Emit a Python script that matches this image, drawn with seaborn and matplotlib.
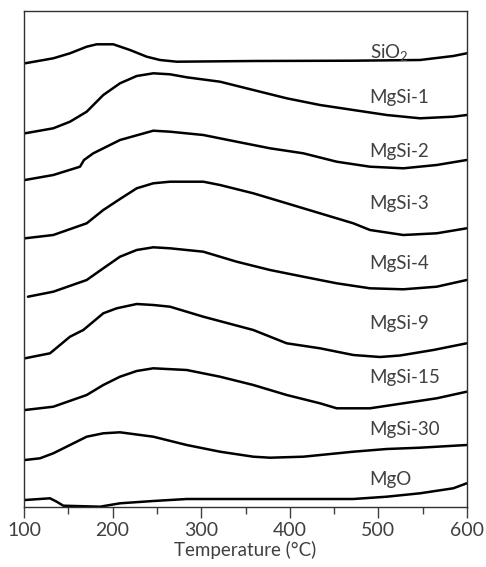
import numpy as np
import pandas as pd
import matplotlib
matplotlib.use("Agg")
import matplotlib.pyplot as plt
import seaborn as sns

# ---- data (pixel columns/rows converted to T and offset signal) ----
AX_TOP = 507.0  # signal = AX_TOP - pixel row

def px_to_T(px):
    return [100 + (p - 24) * 500.0 / 443.0 for p in px]

sio2_px = [25, 53.3, 70, 86.7, 96.7, 113.3, 130, 146.7, 160, 176.7, 253.3, 353.3, 420, 453.3, 466.7]
sio2_py = [63.3, 58.3, 53.3, 46.7, 44.3, 44.3, 50, 56.7, 60, 61.7, 61, 60.7, 60, 56, 53.3]

mgsi1_px = [25, 53.3, 70, 86.7, 103.3, 120, 136.7, 153.3, 170, 186.7, 220, 253.3, 286.7, 320, 353.3, 386.7, 420, 453.3, 466.7]
mgsi1_py = [133.3, 128.3, 121.7, 111.7, 95, 83.3, 76, 73.3, 74.3, 77.3, 81.7, 90, 98.3, 105, 110, 115, 118.3, 116.7, 115]

mgsi2_px = [25, 53.3, 80, 84, 93.3, 120, 153.3, 170, 203.3, 236.7, 270, 303.3, 336.7, 370, 403.3, 436.7, 466.7]
mgsi2_py = [180, 175, 166.7, 160, 153.3, 140, 130.7, 131.7, 135, 141.7, 148.3, 153.3, 161.7, 166.7, 168.3, 165, 160]

mgsi3_px = [25, 53.3, 86.7, 103.3, 120, 136.7, 153.3, 170, 203.3, 220, 253.3, 286.7, 320, 353.3, 370, 403.3, 436.7, 466.7]
mgsi3_py = [238.3, 235, 223.3, 210, 199, 188.3, 183.3, 181.7, 181.7, 185, 193.3, 203.3, 213.3, 223.3, 230, 235, 233.3, 228.3]

mgsi4_px = [28, 53.3, 86.7, 103.3, 120, 136.7, 153.3, 170, 203.3, 236.7, 270, 303.3, 336.7, 370, 403.3, 436.7, 466.7]
mgsi4_py = [296.7, 291.7, 280, 268.3, 256.7, 250, 247.3, 248.3, 251.7, 261.7, 270, 276.7, 283.3, 288.3, 289.3, 286.7, 280]

mgsi9_px = [25, 50, 70, 83.3, 103.3, 116.7, 136.7, 153.3, 170, 203.3, 253.3, 286.7, 320, 353.3, 380, 400, 433.3, 466.7]
mgsi9_py = [358.3, 353.3, 336.7, 330, 313.3, 308.3, 304, 305, 306.7, 316.7, 330, 343.3, 348.3, 355, 357, 355.5, 350, 343.3]

mgsi15_px = [25, 53.3, 86.7, 103.3, 120, 136.7, 153.3, 186.7, 220, 253.3, 286.7, 320, 336.7, 370, 403.3, 436.7, 466.7]
mgsi15_py = [410, 406.7, 395, 385, 376.7, 371, 368.3, 370, 376.7, 385, 395, 403.3, 408.3, 408.3, 403.3, 398.3, 391.7]

mgsi30_px = [25, 40, 53.3, 70, 86.7, 103.3, 120, 153.3, 186.7, 220, 253.3, 270, 303.3, 353.3, 386.7, 420, 466.7]
mgsi30_py = [460, 458.3, 453.3, 445, 436.7, 433.3, 432.3, 436.7, 445, 451.7, 456.7, 457.7, 456.7, 451.7, 449, 447.7, 445]

mgo_px = [25, 50, 56.7, 63.3, 100, 120, 153.3, 186.7, 253.3, 320, 353.3, 386.7, 420, 453.3, 466.7]
mgo_py = [500, 498.3, 501.7, 505.7, 506.7, 503.3, 501, 499, 499, 499, 499, 496.7, 493.3, 488.3, 483.3]

samples = ["SiO2", "MgSi-1", "MgSi-2", "MgSi-3", "MgSi-4", "MgSi-9", "MgSi-15", "MgSi-30", "MgO"]
labels = [r"SiO$_\mathregular{2}$", "MgSi-1", "MgSi-2", "MgSi-3", "MgSi-4", "MgSi-9", "MgSi-15", "MgSi-30", "MgO"]
label_row = [53, 97, 152, 203, 263, 323, 377, 430, 480]
xticks = [100, 200, 300, 400, 500, 600]

series_px = [sio2_px, mgsi1_px, mgsi2_px, mgsi3_px, mgsi4_px, mgsi9_px, mgsi15_px, mgsi30_px, mgo_px]
series_py = [sio2_py, mgsi1_py, mgsi2_py, mgsi3_py, mgsi4_py, mgsi9_py, mgsi15_py, mgsi30_py, mgo_py]

frames = []
for name, pxs, pys in zip(samples, series_px, series_py):
    frames.append(pd.DataFrame({
        "sample": name,
        "T": px_to_T(pxs),
        "signal": [AX_TOP - p for p in pys],
    }))
df = pd.concat(frames, ignore_index=True)

# ---- plot ----
sns.set_theme(style="white")
plt.rcParams["font.family"] = ["Lato", "DejaVu Sans"]
plt.rcParams["mathtext.fontset"] = "custom"
plt.rcParams["mathtext.rm"] = "Lato"

fig = plt.figure(figsize=(4.86, 5.67), dpi=100)
ax = fig.add_axes([24 / 486, 1 - 507 / 567, (467 - 24) / 486, (507 - 11) / 567])

sns.lineplot(data=df, x="T", y="signal", units="sample", estimator=None,
             color="black", linewidth=1.8, sort=False, ax=ax, legend=False)

for lab, row in zip(labels, label_row):
    ax.text(490, AX_TOP - row, lab, fontsize=13.5, color="#404040",
            ha="left", va="center")

ax.set_xlim(100, 600)
ax.set_ylim(0, 496)
ax.set_xticks(xticks)
ax.set_xticklabels([str(t) for t in xticks], fontsize=14, color="#404040")
ax.set_xticks(np.arange(150, 600, 100), minor=True)
ax.set_yticks([])
ax.tick_params(axis="x", which="major", direction="out", length=8, width=1,
               color="#404040", bottom=True, pad=3)
ax.tick_params(axis="x", which="minor", direction="out", length=5, width=1,
               color="#404040", bottom=True)
ax.set_xlabel("Temperature (°C)", fontsize=13.5, color="#404040", labelpad=1)
ax.set_ylabel("")
for s in ax.spines.values():
    s.set_color("#303030")
    s.set_linewidth(1.0)
    s.set_visible(True)

fig.savefig("out.png", dpi=100)
